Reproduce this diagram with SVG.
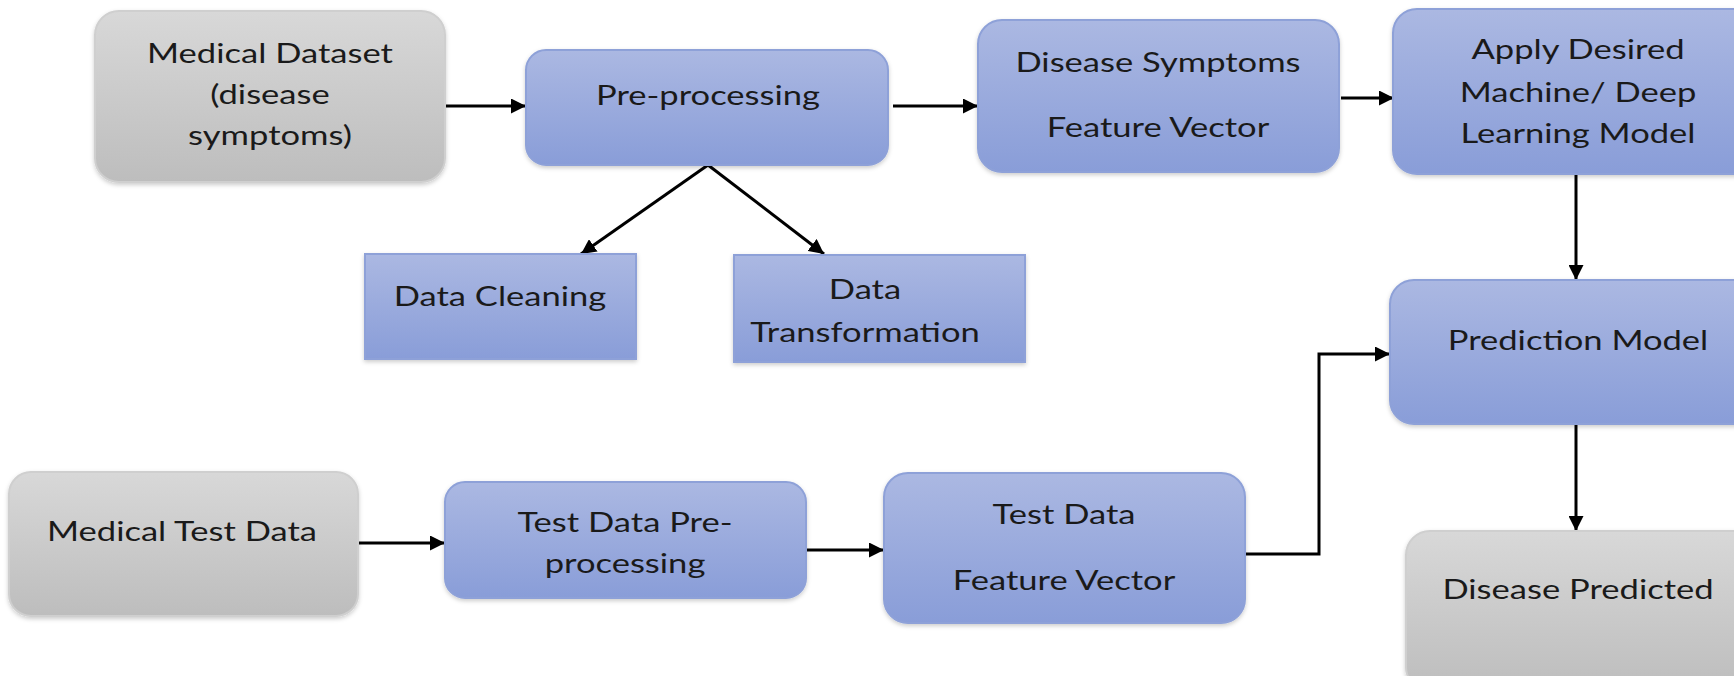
<svg xmlns="http://www.w3.org/2000/svg" width="1734" height="676" viewBox="0 0 1734 676">
<defs>
<linearGradient id="gBlue" x1="0" y1="0" x2="0" y2="1">
<stop offset="0" stop-color="#abb8e2"/>
<stop offset="1" stop-color="#899dd8"/>
</linearGradient>
<linearGradient id="gGray" x1="0" y1="0" x2="0" y2="1">
<stop offset="0" stop-color="#d8d8d8"/>
<stop offset="1" stop-color="#bdbdbd"/>
</linearGradient>
<filter id="sh" x="-5%" y="-5%" width="110%" height="115%">
<feDropShadow dx="0" dy="2" stdDeviation="2" flood-color="#000" flood-opacity="0.2"/>
</filter>
<marker id="ah" viewBox="0 0 10 10" refX="10" refY="5" markerWidth="5" markerHeight="5" orient="auto" markerUnits="strokeWidth">
<path d="M0,0 L10,5 L0,10 z" fill="#000"/>
</marker>
<style>
.blue{fill:url(#gBlue);stroke:#8ea1d8;stroke-width:2;filter:url(#sh)}
.gray{fill:url(#gGray);stroke:#cfcfcf;stroke-width:2;filter:url(#sh)}
.t{font-family:Lato,"Open Sans","Liberation Sans",sans-serif;font-size:27px;fill:#1a1a1a;text-anchor:middle;dominant-baseline:central}
.c{fill:none;stroke:#000;stroke-width:3;marker-end:url(#ah)}
</style>
</defs>
<rect width="1734" height="676" fill="#ffffff"/>
<g id="connectors">
<path class="c" d="M445,106 L526,106"/>
<path class="c" d="M893,106 L978,106"/>
<path class="c" d="M1341,98 L1394,98"/>
<path class="c" d="M708,165 L581,254"/>
<path class="c" d="M708,165 L824,254"/>
<path class="c" d="M1576,174 L1576,280"/>
<path class="c" d="M1576,424 L1576,531"/>
<path class="c" d="M358,543 L445,543"/>
<path class="c" d="M806,550 L884,550"/>
<path class="c" d="M1245,554 L1319,554 L1319,354 L1390,354"/>
</g>
<g id="medical-dataset">
<rect class="gray" x="95" y="11" width="350" height="171" rx="24"/>
<text class="t" transform="translate(270,53) scale(1.28,1)">Medical Dataset</text>
<text class="t" transform="translate(270,94) scale(1.28,1)">(disease</text>
<text class="t" transform="translate(270,135) scale(1.28,1)">symptoms)</text>
</g>
<g id="pre-processing">
<rect class="blue" x="526" y="50" width="362" height="115" rx="20"/>
<text class="t" transform="translate(708,95) scale(1.28,1)">Pre-processing</text>
</g>
<g id="disease-symptoms">
<rect class="blue" x="978" y="20" width="361" height="152" rx="24"/>
<text class="t" transform="translate(1158,62) scale(1.28,1)">Disease Symptoms</text>
<text class="t" transform="translate(1158,127) scale(1.28,1)">Feature Vector</text>
</g>
<g id="apply-model">
<rect class="blue" x="1393" y="9" width="372" height="165" rx="24"/>
<text class="t" transform="translate(1578,49) scale(1.28,1)">Apply Desired</text>
<text class="t" transform="translate(1578,92) scale(1.28,1)">Machine/ Deep</text>
<text class="t" transform="translate(1578,133) scale(1.28,1)">Learning Model</text>
</g>
<g id="data-cleaning">
<rect class="blue" x="365" y="254" width="271" height="105"/>
<text class="t" transform="translate(500,296) scale(1.28,1)">Data Cleaning</text>
</g>
<g id="data-transformation">
<rect class="blue" x="734" y="255" width="291" height="107"/>
<text class="t" transform="translate(865,289) scale(1.28,1)">Data</text>
<text class="t" transform="translate(865,332) scale(1.28,1)">Transformation</text>
</g>
<g id="prediction-model">
<rect class="blue" x="1390" y="280" width="372" height="144" rx="24"/>
<text class="t" transform="translate(1578,340) scale(1.28,1)">Prediction Model</text>
</g>
<g id="disease-predicted">
<rect class="gray" x="1406" y="531" width="356" height="160" rx="24"/>
<text class="t" transform="translate(1578,589) scale(1.28,1)">Disease Predicted</text>
</g>
<g id="medical-test-data">
<rect class="gray" x="9" y="472" width="349" height="144" rx="22"/>
<text class="t" transform="translate(182,531) scale(1.28,1)">Medical Test Data</text>
</g>
<g id="test-preprocessing">
<rect class="blue" x="445" y="482" width="361" height="116" rx="20"/>
<text class="t" transform="translate(625,522) scale(1.28,1)">Test Data Pre-</text>
<text class="t" transform="translate(625,563) scale(1.28,1)">processing</text>
</g>
<g id="test-feature-vector">
<rect class="blue" x="884" y="473" width="361" height="150" rx="24"/>
<text class="t" transform="translate(1064,514) scale(1.28,1)">Test Data</text>
<text class="t" transform="translate(1064,580) scale(1.28,1)">Feature Vector</text>
</g>
</svg>
